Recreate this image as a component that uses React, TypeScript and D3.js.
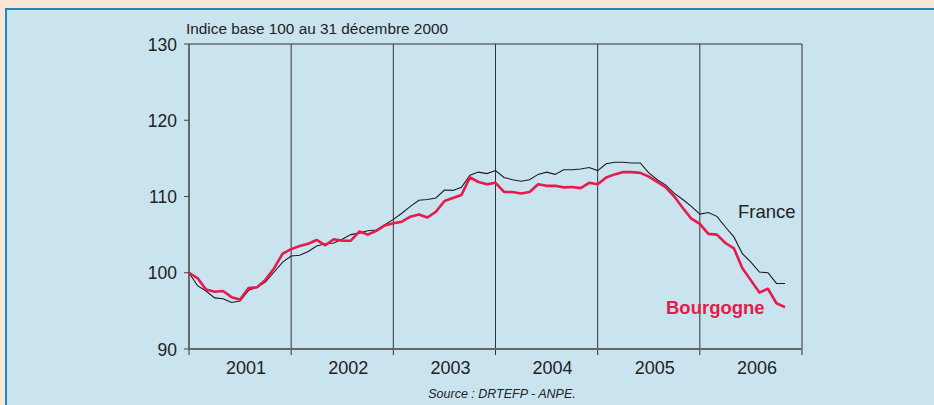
import React from "react"
import * as d3 from "d3"

const width = 934
const height = 405

// monthly index, month 0 = 31 Dec 2000
const franceValues = [
  100, 98.3, 97.6, 96.7, 96.6, 96.1, 96.3, 97.7, 98.1, 98.8, 100.1, 101.4,
  102.2, 102.3, 102.8, 103.5, 103.8, 103.9, 104.4, 105.0, 105.2, 105.5, 105.6, 106.3,
  107.0, 107.8, 108.7, 109.5, 109.6, 109.8, 110.85, 110.8, 111.2, 112.8, 113.2, 113.0,
  113.4, 112.5, 112.2, 112.0, 112.2, 112.9, 113.2, 112.9, 113.5, 113.5, 113.6, 113.8,
  113.4, 114.3, 114.5, 114.5, 114.4, 114.4, 113.1, 112.2, 111.5, 110.4, 109.6, 108.7,
  107.7, 107.9, 107.4, 106.0, 104.7, 102.5, 101.4, 100.1, 100.0, 98.6, 98.6,
]
const bourgogneValues = [
  100, 99.3, 97.8, 97.5, 97.6, 96.8, 96.5, 98.0, 98.1, 99.1, 100.6, 102.5,
  103.1, 103.5, 103.8, 104.3, 103.6, 104.4, 104.2, 104.2, 105.4, 105.0, 105.5, 106.2,
  106.5, 106.7, 107.35, 107.65, 107.25, 108.0, 109.4, 109.8, 110.2, 112.5, 111.9, 111.6,
  111.8, 110.6, 110.6, 110.4, 110.6, 111.6, 111.4, 111.4, 111.2, 111.25, 111.1, 111.8,
  111.6, 112.5, 112.9, 113.2, 113.2, 113.1, 112.6, 111.9, 111.2, 110.0, 108.5, 107.1,
  106.4, 105.1, 105.0, 103.9, 103.2, 100.6, 99.0, 97.4, 97.9, 96.0, 95.5,
]
const years = ["2001", "2002", "2003", "2004", "2005", "2006"]
const yTicks = [90, 100, 110, 120, 130]

const margin = { left: 189, right: 132, top: 44, bottom: 56 }

const App = () => {
  const x = d3
    .scaleLinear()
    .domain([0, years.length * 12])
    .range([margin.left, width - margin.right])
  const y = d3
    .scaleLinear()
    .domain([90, 130])
    .range([height - margin.bottom, margin.top])

  const line = d3
    .line<number>()
    .x((d, i) => x(i))
    .y(d => y(d))

  const bounds = d3.range(0, years.length + 1).map(i => i * 12)

  return (
    <svg
      width={width}
      height={height}
      style={{ position: "absolute", left: 0, top: 0, fontFamily: "Liberation Sans, Arial, sans-serif" }}
    >
      {/* frame */}
      <rect x={0} y={0} width={width} height={height} fill="#fce6d7" />
      <rect x={6} y={9} width={width} height={height} fill="#c9e4ef" stroke="#2088b6" strokeWidth={2} />

      <text x={186} y={34} fontSize={14} fill="#222" textLength={262} lengthAdjust="spacingAndGlyphs">
        Indice base 100 au 31 décembre 2000
      </text>

      {/* top line */}
      <line x1={x(0)} x2={x(72)} y1={y(130)} y2={y(130)} stroke="#333" strokeWidth={1} />

      {/* year separators */}
      {bounds.map(b => (
        <line key={b} x1={x(b)} x2={x(b)} y1={y(130)} y2={y(90) + 6} stroke="#333" strokeWidth={1} />
      ))}

      {/* y axis */}
      <line x1={x(0)} x2={x(0)} y1={y(130)} y2={y(90)} stroke="#555" strokeWidth={1.2} />
      {yTicks.map(t => (
        <g key={t}>
          <line x1={x(0) - 5} x2={x(0)} y1={y(t)} y2={y(t)} stroke="#444" />
          <text x={177} y={y(t) + 6.5} fontSize={17.5} textAnchor="end" fill="#222">
            {t}
          </text>
        </g>
      ))}

      {/* x axis */}
      <line x1={x(0)} x2={x(72)} y1={y(90)} y2={y(90)} stroke="#666" strokeWidth={2} />
      {years.map((yr, i) => (
        <text key={yr} x={x(i * 12 + 6) + 6} y={373.5} fontSize={18} textAnchor="middle" fill="#222">
          {yr}
        </text>
      ))}

      <path d={line(franceValues) ?? ""} fill="none" stroke="#1a1a1a" strokeWidth={1.1} />
      <path d={line(bourgogneValues) ?? ""} fill="none" stroke="#e8194b" strokeWidth={2.6} strokeLinejoin="round" />

      <text x={738} y={218} fontSize={18.5} fill="#222">
        France
      </text>
      <text x={666} y={314} fontSize={18.5} fontWeight="bold" fill="#e8194b">
        Bourgogne
      </text>

      <text x={502} y={398} fontSize={12.5} fontStyle="italic" textAnchor="middle" fill="#222">
        Source : DRTEFP - ANPE.
      </text>
    </svg>
  )
}

export default App
